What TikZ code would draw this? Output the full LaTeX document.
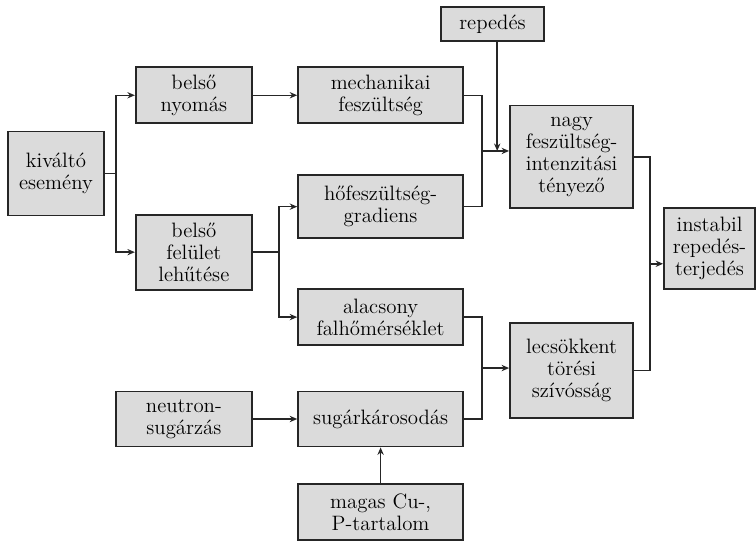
\documentclass[tikz,border=0pt]{standalone}
\usepackage{fontspec}
\usetikzlibrary{arrows.meta, positioning, calc}
\definecolor{boxgray}{gray}{0.86}
\definecolor{linegray}{gray}{0.15}

\begin{document}
\begin{tikzpicture}[>={Stealth[length=4.5pt,width=3.8pt]}, line width=0.9pt, draw=linegray,
  box/.style={draw=linegray, fill=boxgray, line width=1.1pt, rectangle, align=center, inner sep=2pt, font=\fontsize{12.5}{13.2}\selectfont}]

\useasboundingbox (0,0) rectangle (15.95,11.42);

% Causes and intermediate effects
\node (kivalto) [box, minimum width=2.03cm, minimum height=1.77cm] at (1.18,7.76) {kiváltó\\esemény};
\node (nyomas) [box, minimum width=2.45cm, minimum height=1.18cm] at (4.09,9.41) {belső\\nyomás};
\node (felulet) [box, minimum width=2.45cm, minimum height=1.58cm] at (4.09,6.10) {belső\\felület\\lehűtése};
\node (mech) [box, minimum width=3.48cm, minimum height=1.18cm] at (8.03,9.41) {mechanikai\\feszültség};
\node (repedes) [box, minimum width=2.17cm, minimum height=0.72cm] at (10.39,10.91) {repedés};
\node (hofesz) [box, minimum width=3.48cm, minimum height=1.33cm] at (8.03,7.06) {hőfeszültség-\\gradiens};
\node (alacsony) [box, minimum width=3.48cm, minimum height=1.18cm] at (8.03,4.73) {alacsony\\falhőmérséklet};
\node (sugar) [box, minimum width=3.48cm, minimum height=1.16cm] at (8.03,2.58) {sugárkárosodás};
\node (magas) [box, minimum width=3.48cm, minimum height=1.18cm] at (8.03,0.61) {magas Cu-,\\P-tartalom};
\node (neutron) [box, minimum width=2.87cm, minimum height=1.16cm] at (3.88,2.58) {neutron-\\sugárzás};

% Right hand side
\node (nagy) [box, minimum width=2.60cm, minimum height=2.17cm] at (12.06,8.11) {nagy\\feszültség-\\intenzitási\\tényező};
\node (lecsokk) [box, minimum width=2.60cm, minimum height=2.00cm] at (12.06,3.60) {lecsökkent\\törési\\szívósság};
\node (instabil) [box, minimum width=1.92cm, minimum height=1.71cm] at (14.97,6.17) {instabil\\repedés-\\terjedés};

% Branches
\draw (kivalto.east) -- ++(0.23,0) coordinate (k1);
\draw[->] (k1) |- (nyomas.west);
\draw[->] (k1) |- (felulet.west);
\draw[->] (nyomas) -- (mech);

\draw (felulet.east) -- ++(0.55,0) coordinate (f1);
\draw[->] (f1) |- (hofesz.west);
\draw[->] (f1) |- (alacsony.west);

% Merges
\draw (mech.east) -- ++(0.38,0) coordinate (m1) -- (m1 |- hofesz.east) coordinate (m2) -- (hofesz.east);
\coordinate (m3) at ($(m1)!0.5!(m2)$);
\draw[->] (m3) -- (nagy.west |- m3);
\draw[->] ([xshift=0.1cm]repedes.south) -- ([xshift=0.1cm]repedes.south |- m3);

\draw (alacsony.east) -- ++(0.38,0) coordinate (a1) -- (a1 |- sugar.east) coordinate (a2) -- (sugar.east);
\coordinate (a3) at ($(a1)!0.5!(a2)$);
\draw[->] (a3) -- (lecsokk.west |- a3);

\draw[->] (neutron) -- (sugar);
\draw[->] (magas) -- (sugar);

\draw (nagy.east) -- ++(0.33,0) coordinate (n1) -- (n1 |- lecsokk.east) coordinate (n2) -- (lecsokk.east);
\coordinate (n3) at ($(n1)!0.5!(n2)$);
\draw[->] (n3) -- (instabil.west |- n3);
\end{tikzpicture}
\end{document}
